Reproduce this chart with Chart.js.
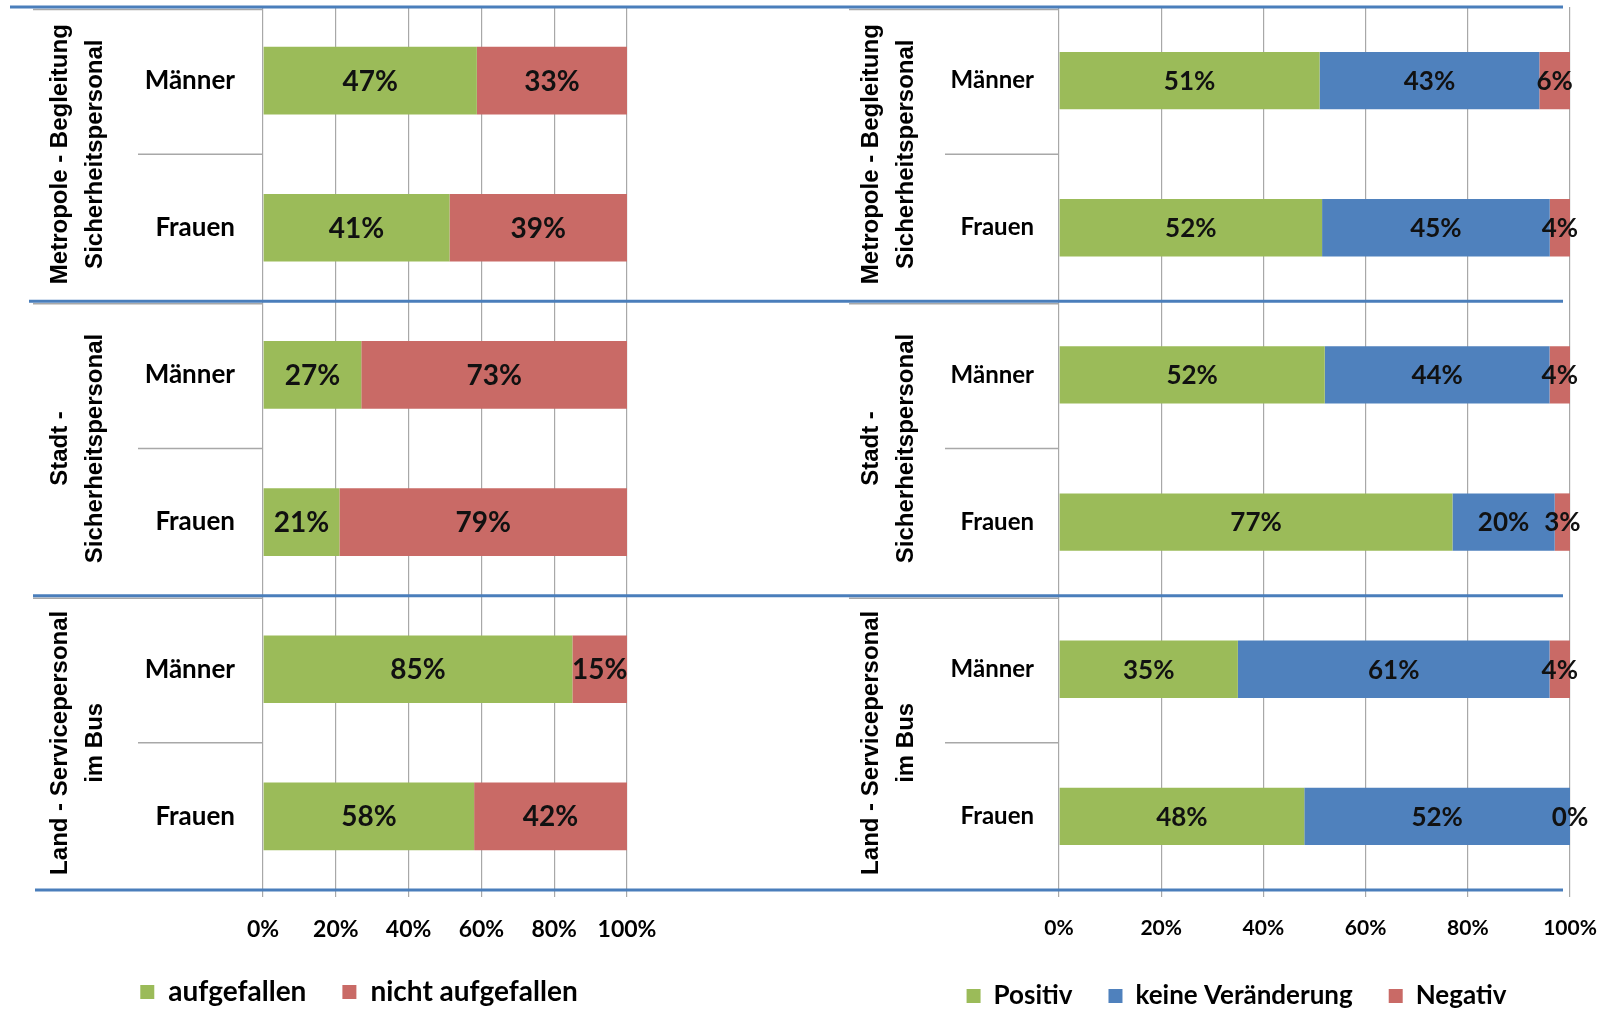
<!DOCTYPE html>
<html>
<head>
<meta charset="utf-8">
<script src="https://cdn.jsdelivr.net/npm/chart.js@4.4.1/dist/chart.umd.min.js"></script>
<style>
  html, body { margin: 0; padding: 0; background: #fff; }
  #wrap { position: relative; width: 1599px; height: 1009px; overflow: hidden; background: #fff; }
  canvas { position: absolute; top: 0; }
  #leftChart { left: 0; }
  #rightChart { left: 800px; }
</style>
</head>
<body>
<div id="wrap">
  <canvas id="leftChart" width="800" height="1009"></canvas>
  <canvas id="rightChart" width="799" height="1009"></canvas>
</div>
<script>
// ===== Data =====
const categories = ['Männer', 'Frauen', 'Männer', 'Frauen', 'Männer', 'Frauen'];
const groups = [
    ['Metropole - Begleitung', 'Sicherheitspersonal'],
    ['Stadt -', 'Sicherheitspersonal'],
    ['Land - Servicepersonal', 'im Bus']
];
const xTicks = [0, 20, 40, 60, 80, 100];

// left chart
const aufgefallen = [47, 41, 27, 21, 85, 58];
const nichtAufgefallen = [33, 39, 73, 79, 15, 42];

// right chart
const positiv = [51, 52, 52, 77, 35, 48];
const keineVeraenderung = [43, 45, 44, 20, 61, 52];
const negativ = [6, 4, 4, 3, 4, 0];

const GREEN = '#9BBB59';
const RED = '#C96A66';
const BLUE = '#4F81BD';
const LINE_BLUE = '#4A7EBB';
const GRID = '#A8A8A8';
const PLOT_BOTTOM = 890;

Chart.defaults.font.family = 'Lato';
Chart.defaults.color = '#000';

// 100% stacked: each series as share of the row total
function shares(series, all) {
    return series.map((v, i) => {
        const total = all.reduce((s, arr) => s + arr[i], 0);
        return total ? v / total * 100 : 0;
    });
}

// ===== Labels, group captions and separator lines =====
const decorPlugin = {
    id: 'decor',
    afterDatasetsDraw(chart, args, opts) {
        const ctx = chart.ctx;
        ctx.save();
        ctx.font = `bold ${opts.labelSize}px Lato`;
        ctx.fillStyle = '#111';
        ctx.textAlign = 'center';
        ctx.textBaseline = 'middle';
        chart.data.datasets.forEach((ds, di) => {
            chart.getDatasetMeta(di).data.forEach((bar, i) => {
                ctx.fillText(ds.shown[i] + '%', (bar.x + bar.base) / 2, bar.y + 1);
            });
        });
        ctx.restore();
    },
    afterDraw(chart, args, opts) {
        const ctx = chart.ctx;
        const y = chart.scales.y;
        const area = chart.chartArea;
        const step = y.getPixelForValue(1) - y.getPixelForValue(0);
        ctx.save();

        groups.forEach((lines, g) => {
            const top = y.getPixelForValue(2 * g) - step / 2;
            const mid = y.getPixelForValue(2 * g) + step / 2;

            ctx.strokeStyle = GRID;
            ctx.lineWidth = 1.5;
            ctx.beginPath();
            ctx.moveTo(opts.groupLineX, top + 2.5);
            ctx.lineTo(area.left, top + 2.5);
            ctx.moveTo(opts.catLineX, mid);
            ctx.lineTo(area.left, mid);
            ctx.stroke();

            ctx.save();
            ctx.translate(area.left + opts.groupX, mid);
            ctx.rotate(-Math.PI / 2);
            ctx.font = 'bold 24px "Liberation Sans"';
            ctx.fillStyle = '#000';
            ctx.textAlign = 'center';
            ctx.textBaseline = 'middle';
            ctx.fillText(lines[0], 0, -17);
            ctx.fillText(lines[1], 0, 18);
            ctx.restore();
        });

        ctx.strokeStyle = LINE_BLUE;
        ctx.lineWidth = 3;
        for (let g = 0; g <= groups.length; g++) {
            const yy = y.getPixelForValue(2 * g) - step / 2;
            ctx.beginPath();
            ctx.moveTo(opts.blueX0[g], yy);
            ctx.lineTo(opts.blueX1, yy);
            ctx.stroke();
        }
        ctx.restore();
    }
};

// ===== Chart builder =====
function makeChart(id, datasets, cfg) {
    return new Chart(document.getElementById(id), {
        type: 'bar',
        data: { labels: categories, datasets },
        options: {
            indexAxis: 'y',
            responsive: false,
            animation: false,
            layout: { padding: { top: 7, left: cfg.padLeft, right: cfg.padRight, bottom: cfg.padBottom } },
            datasets: { bar: { categoryPercentage: cfg.barPct, barPercentage: 1, borderWidth: 0 } },
            plugins: {
                tooltip: { enabled: false },
                legend: {
                    position: 'bottom',
                    labels: { boxWidth: 14, boxHeight: 14, padding: 36, color: '#000', font: { size: cfg.legendSize, weight: 'bold' } }
                },
                decor: cfg.decor
            },
            scales: {
                x: {
                    stacked: true,
                    min: 0,
                    max: 100,
                    afterBuildTicks: s => { s.ticks = xTicks.map(v => ({ value: v })); },
                    afterFit: s => {
                        s.height = s.chart.height - PLOT_BOTTOM - s.chart.legend.height - cfg.padBottom;
                        s.paddingLeft = 0;
                        s.paddingRight = 0;
                    },
                    grid: { color: GRID, lineWidth: 1.2, tickLength: 7 },
                    border: { display: false },
                    ticks: { padding: 19, font: { size: cfg.tickSize, weight: 'bold' }, callback: v => v + '%' }
                },
                y: {
                    stacked: true,
                    afterFit: s => {
                        s.width = cfg.yWidth;
                        s.paddingTop = 0;
                        s.paddingBottom = 0;
                    },
                    grid: { display: false, drawTicks: false },
                    border: { display: false },
                    ticks: { padding: cfg.tickPad, font: { size: cfg.catSize, weight: 'bold' } }
                }
            }
        },
        plugins: [decorPlugin]
    });
}

const leftSeries = [aufgefallen, nichtAufgefallen];
makeChart('leftChart', [
    { label: 'aufgefallen', data: shares(aufgefallen, leftSeries), shown: aufgefallen, backgroundColor: GREEN },
    { label: 'nicht aufgefallen', data: shares(nichtAufgefallen, leftSeries), shown: nichtAufgefallen, backgroundColor: RED }
], {
    padLeft: 91, padRight: 173, padBottom: -7, yWidth: 172, tickPad: 28, barPct: 0.46,
    catSize: 26, tickSize: 23, legendSize: 28,
    decor: { labelSize: 28, groupX: -186, catLineX: 138, groupLineX: 33, blueX0: [10, 29, 33, 35], blueX1: 800 }
});

const rightSeries = [positiv, keineVeraenderung, negativ];
makeChart('rightChart', [
    { label: 'Positiv', data: shares(positiv, rightSeries), shown: positiv, backgroundColor: GREEN },
    { label: 'keine Veränderung', data: shares(keineVeraenderung, rightSeries), shown: keineVeraenderung, backgroundColor: BLUE },
    { label: 'Negativ', data: shares(negativ, rightSeries), shown: negativ, backgroundColor: RED }
], {
    padLeft: 103, padRight: 29, padBottom: -10, yWidth: 156, tickPad: 25, barPct: 0.39,
    catSize: 24, tickSize: 21, legendSize: 26,
    decor: { labelSize: 26, groupX: -171, catLineX: 145, groupLineX: 49, blueX0: [0, 0, 0, 0], blueX1: 763 }
});
</script>
</body>
</html>
